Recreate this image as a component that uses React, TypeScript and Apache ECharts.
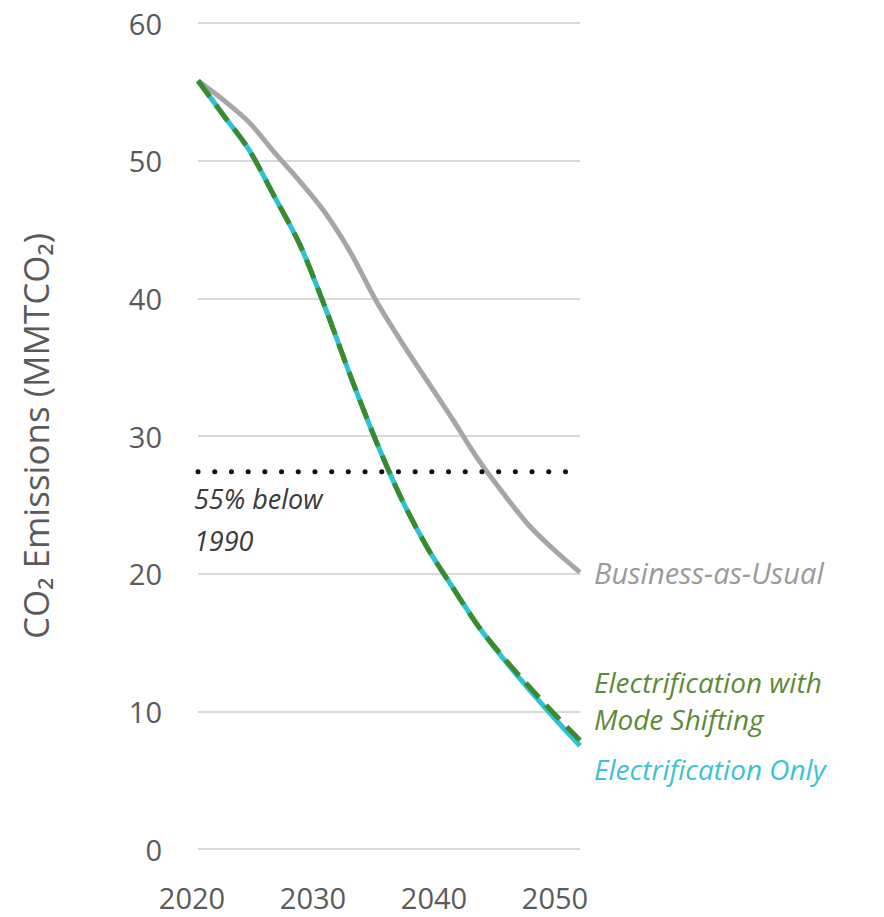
import React, { useEffect, useRef } from "react";
import * as echarts from "echarts";

const years = [2020, 2022, 2024, 2026, 2028, 2030, 2032, 2034, 2036, 2038, 2040, 2042, 2044, 2046, 2048, 2050];
const businessAsUsual = [55.8, 54.4, 52.8, 50.6, 48.5, 46.2, 43.3, 39.8, 36.8, 34.0, 31.2, 28.3, 25.8, 23.5, 21.7, 20.1];
const electrificationOnly = [55.8, 53.3, 50.8, 47.4, 43.9, 39.3, 34.3, 29.6, 25.4, 21.9, 19.0, 16.2, 13.8, 11.6, 9.5, 7.5];
const electrificationModeShift = [55.8, 53.3, 50.8, 47.4, 43.9, 39.3, 34.3, 29.6, 25.4, 21.9, 19.0, 16.2, 13.9, 11.8, 9.8, 7.9];
const target55Below1990 = 27.4;
const targetYears = [2020, 2050];
const xLabelYears = [2020, 2030, 2040, 2050];

const FONT = "'Open Sans', Lato, sans-serif";

export default function App() {
  const ref = useRef<HTMLDivElement>(null);
  useEffect(() => {
    if (!ref.current) return;
    const chart = echarts.init(ref.current, undefined, { renderer: "svg" });
    const pair = (vals: number[]) => years.map((y, i) => [y, vals[i]]);
    const curve = { smooth: 0.3, showSymbol: false };
    chart.setOption({
      animation: false,
      backgroundColor: "#ffffff",
      grid: [
        { left: 198, right: 304, top: 23, bottom: 68 },
        { left: 192, right: 329, top: 23, bottom: 68 },
      ],
      xAxis: [
        { type: "value", gridIndex: 0, min: 2020, max: 2050, show: false },
        {
          type: "value",
          gridIndex: 1,
          min: xLabelYears[0],
          max: xLabelYears[xLabelYears.length - 1],
          interval: 10,
          axisLine: { show: false },
          axisTick: { show: false },
          splitLine: { show: false },
          axisLabel: { margin: 34, fontSize: 29, color: "#5a5a5a", fontFamily: FONT, formatter: (v: number) => String(v) },
        },
      ],
      yAxis: [
        {
          type: "value",
          gridIndex: 0,
          min: 0,
          max: 60,
          interval: 10,
          name: "CO\u2082 Emissions (MMTCO\u2082)",
          nameLocation: "middle",
          nameGap: 145,
          nameTextStyle: { fontSize: 35, color: "#5a5a5a", fontFamily: FONT },
          axisLine: { show: false },
          axisTick: { show: false },
          splitLine: { lineStyle: { color: "#d9d9d9", width: 2 } },
          axisLabel: { margin: 36, fontSize: 29, color: "#5a5a5a", fontFamily: FONT },
        },
        { type: "value", gridIndex: 1, min: 0, max: 60, show: false },
      ],
      series: [
        {
          name: "Business-as-Usual",
          type: "line",
          data: pair(businessAsUsual),
          ...curve,
          lineStyle: { color: "#a6a6a6", width: 5 },
          z: 2,
          endLabel: {
            show: true,
            formatter: "Business-as-Usual",
            distance: 14,
            fontSize: 29,
            fontStyle: "italic",
            fontFamily: FONT,
            color: "#9a9a9a",
          },
        },
        {
          name: "55% below 1990",
          type: "line",
          data: targetYears.map((y) => [y, target55Below1990]),
          showSymbol: false,
          lineStyle: { color: "#111111", width: 5, type: [0.1, 16.6], cap: "round" },
          z: 3,
        },
        {
          name: "Electrification Only",
          type: "line",
          data: pair(electrificationOnly),
          ...curve,
          lineStyle: { color: "#2cc3d6", width: 5 },
          z: 4,
          endLabel: {
            show: true,
            formatter: "Electrification Only",
            distance: 14,
            offset: [0, 23],
            fontSize: 28,
            fontStyle: "italic",
            fontFamily: FONT,
            color: "#3cc2d2",
          },
        },
        {
          name: "Electrification with Mode Shifting",
          type: "line",
          data: pair(electrificationModeShift),
          ...curve,
          lineStyle: { color: "#3b8a2c", width: 5, type: [20, 10] },
          z: 5,
          endLabel: {
            show: true,
            formatter: "Electrification with\nMode Shifting",
            distance: 14,
            offset: [0, -40],
            lineHeight: 37,
            fontSize: 28,
            fontStyle: "italic",
            fontFamily: FONT,
            color: "#5e8a38",
          },
        },
      ],
      graphic: [
        {
          type: "text",
          left: 194,
          top: 477,
          style: {
            text: "55% below\n1990",
            fontSize: 27,
            lineHeight: 42,
            fontStyle: "italic",
            fontFamily: FONT,
            fill: "#3a3a3a",
          },
        },
      ],
    });
    return () => chart.dispose();
  }, []);
  return <div ref={ref} style={{ position: "fixed", left: 0, top: 0, width: 884, height: 917 }} />;
}
